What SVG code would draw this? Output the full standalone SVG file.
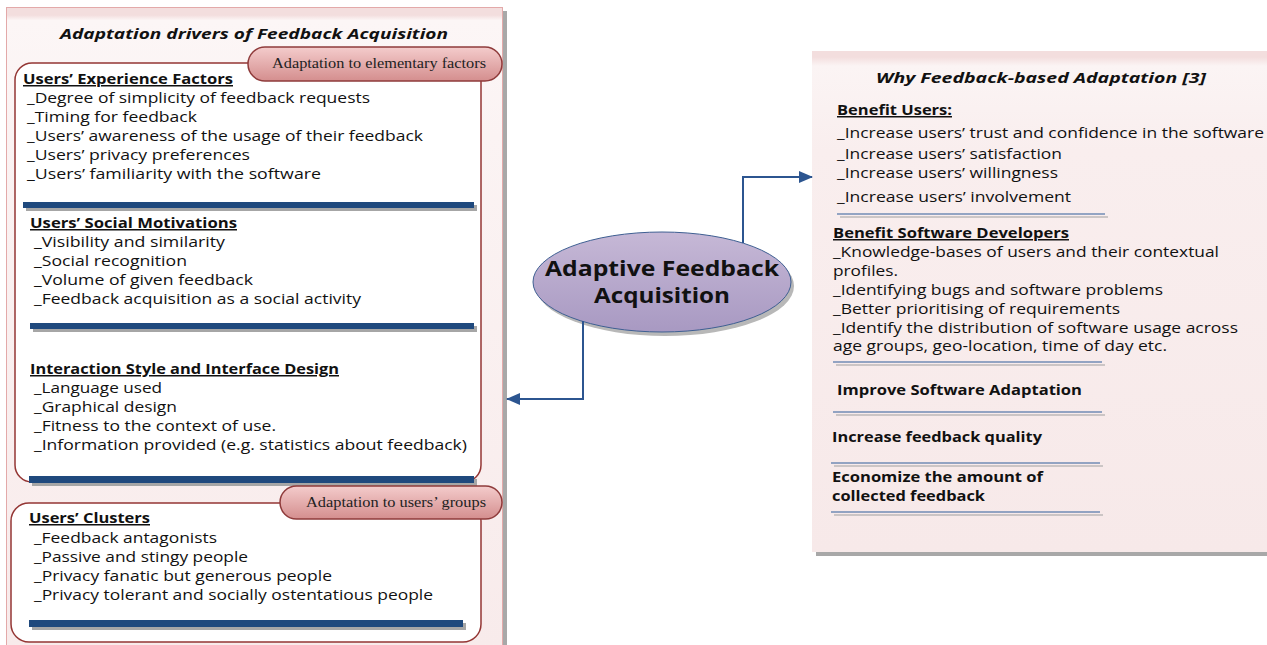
<svg xmlns="http://www.w3.org/2000/svg" width="1267" height="645" viewBox="0 0 1267 645">
<defs>
<linearGradient id="gLeft" x1="0" y1="0" x2="0" y2="1">
<stop offset="0" stop-color="#f3dede"/>
<stop offset="0.012" stop-color="#f3dede"/>
<stop offset="0.02" stop-color="#fcf6f6"/>
<stop offset="0.2" stop-color="#fbf3f3"/>
<stop offset="1" stop-color="#f8ebeb"/>
</linearGradient>
<linearGradient id="gRight" x1="0" y1="0" x2="0" y2="1">
<stop offset="0" stop-color="#f3dede"/>
<stop offset="0.012" stop-color="#f3dede"/>
<stop offset="0.03" stop-color="#fbf4f4"/>
<stop offset="0.2" stop-color="#f9eeee"/>
<stop offset="1" stop-color="#f7e9e9"/>
</linearGradient>
<linearGradient id="gPill" x1="0" y1="0" x2="0" y2="1">
<stop offset="0" stop-color="#f4cccc"/>
<stop offset="1" stop-color="#d48e8e"/>
</linearGradient>
<linearGradient id="gEll" x1="0" y1="0" x2="0" y2="1">
<stop offset="0" stop-color="#c6b8d6"/>
<stop offset="1" stop-color="#a899c2"/>
</linearGradient>
<marker id="arr" viewBox="0 0 14 12" refX="13" refY="6" markerWidth="14" markerHeight="12" markerUnits="userSpaceOnUse" orient="auto">
<path d="M0,0 L14,6 L0,12 Z" fill="#2c5590"/>
</marker>
<style>
.t{font-family:"Open Sans","DejaVu Sans",sans-serif;font-size:15px;fill:#111}
.h{font-weight:bold;text-decoration:underline}
.b{font-weight:bold}
.el{font-weight:bold;font-size:22px}
.ti{font-weight:bold;font-style:italic}
.pt{font-family:"Liberation Serif",serif;font-size:14px;fill:#222}
.box{fill:#fff;stroke:#943634;stroke-width:1.5}
.pill{fill:url(#gPill);stroke:#8f3b3b;stroke-width:1.5}
.bar{fill:#1f497d}
.bsh{fill:#a6a6a6}
.ln1{stroke:#2f5c99;stroke-width:1.2}
.ln2{stroke:#a0a0a0;stroke-width:1.2}
.con{fill:none;stroke:#2c5590;stroke-width:2}
</style>
</defs>
<rect width="1267" height="645" fill="#ffffff"/>

<g id="left-panel">
<rect x="503" y="11" width="4" height="634" fill="#a8a8a8"/>
<rect x="6.5" y="7.5" width="496" height="640" fill="url(#gLeft)" stroke="#e3a9a9" stroke-width="1"/>
<text class="t ti" x="60" y="39" textLength="388" lengthAdjust="spacingAndGlyphs">Adaptation drivers of Feedback Acquisition</text>
</g>

<g id="box-elementary">
<rect class="box" x="15" y="63" width="466" height="419" rx="17"/>
<rect class="pill" x="248" y="47" width="254" height="34" rx="17"/>
<text class="pt" x="272" y="68" textLength="214" lengthAdjust="spacingAndGlyphs">Adaptation to elementary factors</text>
<text class="t h" x="23" y="84" textLength="210" lengthAdjust="spacingAndGlyphs">Users’ Experience Factors</text>
<text class="t" x="27" y="103" textLength="343" lengthAdjust="spacingAndGlyphs">_Degree of simplicity of feedback requests</text>
<text class="t" x="27" y="122" textLength="170" lengthAdjust="spacingAndGlyphs">_Timing for feedback</text>
<text class="t" x="27" y="141" textLength="396" lengthAdjust="spacingAndGlyphs">_Users’ awareness of the usage of their feedback</text>
<text class="t" x="27" y="160" textLength="223" lengthAdjust="spacingAndGlyphs">_Users’ privacy preferences</text>
<text class="t" x="27" y="179" textLength="294" lengthAdjust="spacingAndGlyphs">_Users’ familiarity with the software</text>
<rect class="bsh" x="26" y="205" width="451" height="6"/>
<rect class="bar" x="23" y="202" width="451" height="6"/>
<text class="t h" x="30" y="228" textLength="207" lengthAdjust="spacingAndGlyphs">Users’ Social Motivations</text>
<text class="t" x="34" y="247" textLength="191" lengthAdjust="spacingAndGlyphs">_Visibility and similarity</text>
<text class="t" x="34" y="266" textLength="153" lengthAdjust="spacingAndGlyphs">_Social recognition</text>
<text class="t" x="34" y="285" textLength="219" lengthAdjust="spacingAndGlyphs">_Volume of given feedback</text>
<text class="t" x="34" y="304" textLength="327" lengthAdjust="spacingAndGlyphs">_Feedback acquisition as a social activity</text>
<rect class="bsh" x="33" y="326" width="444" height="6"/>
<rect class="bar" x="30" y="323" width="444" height="6"/>
<text class="t h" x="30" y="374" textLength="309" lengthAdjust="spacingAndGlyphs">Interaction Style and Interface Design</text>
<text class="t" x="34" y="393" textLength="128" lengthAdjust="spacingAndGlyphs">_Language used</text>
<text class="t" x="34" y="412" textLength="143" lengthAdjust="spacingAndGlyphs">_Graphical design</text>
<text class="t" x="34" y="431" textLength="242" lengthAdjust="spacingAndGlyphs">_Fitness to the context of use.</text>
<text class="t" x="34" y="450" textLength="433" lengthAdjust="spacingAndGlyphs">_Information provided (e.g. statistics about feedback)</text>
<rect class="bsh" x="32" y="479" width="445" height="7"/>
<rect class="bar" x="29" y="476" width="445" height="7"/>
</g>

<g id="box-groups">
<rect class="box" x="11" y="503" width="470" height="139" rx="18"/>
<rect class="pill" x="280" y="486" width="222" height="33" rx="16.5"/>
<text class="pt" x="306" y="507" textLength="180" lengthAdjust="spacingAndGlyphs">Adaptation to users’ groups</text>
<text class="t h" x="29" y="523" textLength="121" lengthAdjust="spacingAndGlyphs">Users’ Clusters</text>
<text class="t" x="34" y="543" textLength="183" lengthAdjust="spacingAndGlyphs">_Feedback antagonists</text>
<text class="t" x="34" y="562" textLength="214" lengthAdjust="spacingAndGlyphs">_Passive and stingy people</text>
<text class="t" x="34" y="581" textLength="298" lengthAdjust="spacingAndGlyphs">_Privacy fanatic but generous people</text>
<text class="t" x="34" y="600" textLength="399" lengthAdjust="spacingAndGlyphs">_Privacy tolerant and socially ostentatious people</text>
<rect class="bsh" x="32" y="623" width="434" height="7"/>
<rect class="bar" x="29" y="620" width="434" height="7"/>
</g>

<g id="center-node">
<ellipse cx="665" cy="286" rx="129" ry="50" fill="#b8b8b8"/>
<ellipse cx="662" cy="282" rx="129" ry="50" fill="url(#gEll)" stroke="#3e5f92" stroke-width="1"/>
<text class="t el" x="662" y="276" text-anchor="middle" textLength="234" lengthAdjust="spacingAndGlyphs">Adaptive Feedback</text>
<text class="t el" x="662" y="303" text-anchor="middle" textLength="136" lengthAdjust="spacingAndGlyphs">Acquisition</text>
</g>

<g id="right-panel">
<rect x="816" y="552" width="451" height="4" fill="#a8a8a8"/>
<rect x="812" y="51" width="460" height="501" fill="url(#gRight)"/>
<text class="t ti" x="876" y="83" textLength="330" lengthAdjust="spacingAndGlyphs">Why Feedback-based Adaptation [3]</text>
<text class="t h" x="837" y="115" textLength="115" lengthAdjust="spacingAndGlyphs">Benefit Users:</text>
<text class="t" x="837" y="138" textLength="427" lengthAdjust="spacingAndGlyphs">_Increase users’ trust and confidence in the software</text>
<text class="t" x="837" y="159" textLength="225" lengthAdjust="spacingAndGlyphs">_Increase users’ satisfaction</text>
<text class="t" x="837" y="178" textLength="221" lengthAdjust="spacingAndGlyphs">_Increase users’ willingness</text>
<text class="t" x="837" y="202" textLength="234" lengthAdjust="spacingAndGlyphs">_Increase users’ involvement</text>
<line class="ln1" x1="837" y1="214" x2="1105" y2="214"/>
<line class="ln2" x1="840" y1="217" x2="1108" y2="217"/>
<text class="t h" x="833" y="238" textLength="236" lengthAdjust="spacingAndGlyphs">Benefit Software Developers</text>
<text class="t" x="833" y="257" textLength="386" lengthAdjust="spacingAndGlyphs">_Knowledge-bases of users and their contextual</text>
<text class="t" x="833" y="276" textLength="65" lengthAdjust="spacingAndGlyphs">profiles.</text>
<text class="t" x="833" y="295" textLength="330" lengthAdjust="spacingAndGlyphs">_Identifying bugs and software problems</text>
<text class="t" x="833" y="314" textLength="287" lengthAdjust="spacingAndGlyphs">_Better prioritising of requirements</text>
<text class="t" x="833" y="333" textLength="405" lengthAdjust="spacingAndGlyphs">_Identify the distribution of software usage across</text>
<text class="t" x="833" y="351" textLength="334" lengthAdjust="spacingAndGlyphs">age groups, geo-location, time of day etc.</text>
<line class="ln1" x1="833" y1="362" x2="1102" y2="362"/>
<line class="ln2" x1="836" y1="365" x2="1105" y2="365"/>
<text class="t b" x="837" y="395" textLength="245" lengthAdjust="spacingAndGlyphs">Improve Software Adaptation</text>
<line class="ln1" x1="833" y1="412" x2="1102" y2="412"/>
<line class="ln2" x1="836" y1="415" x2="1105" y2="415"/>
<text class="t b" x="832" y="442" textLength="210" lengthAdjust="spacingAndGlyphs">Increase feedback quality</text>
<line class="ln1" x1="831" y1="463" x2="1100" y2="463"/>
<line class="ln2" x1="834" y1="466" x2="1103" y2="466"/>
<text class="t b" x="832" y="482" textLength="211" lengthAdjust="spacingAndGlyphs">Economize the amount of</text>
<text class="t b" x="832" y="501" textLength="153" lengthAdjust="spacingAndGlyphs">collected feedback</text>
<line class="ln1" x1="831" y1="512" x2="1100" y2="512"/>
<line class="ln2" x1="834" y1="515" x2="1103" y2="515"/>
</g>

<g id="connectors">
<path class="con" d="M743,243 V177 H812" marker-end="url(#arr)"/>
<path class="con" d="M583,321 V399 H507" marker-end="url(#arr)"/>
</g>
</svg>
